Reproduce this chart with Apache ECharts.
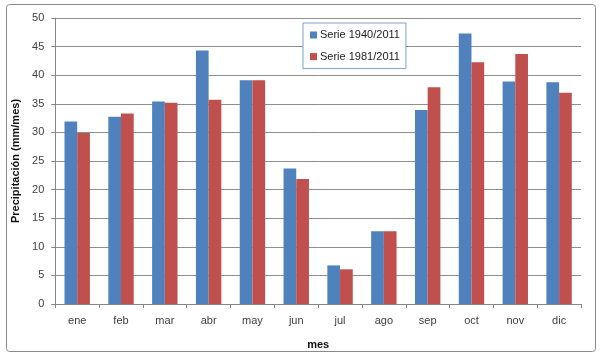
<!DOCTYPE html>
<html><head><meta charset="utf-8">
<script src="https://cdn.jsdelivr.net/npm/echarts@6/dist/echarts.min.js"></script>
<style>html,body{margin:0;padding:0;background:#fff}#c{width:600px;height:356px}</style>
</head><body><div id="c"></div>
<script>
const categories = ['ene','feb','mar','abr','may','jun','jul','ago','sep','oct','nov','dic'];
const serie1940 = [31.9, 32.75, 35.4, 44.3, 39.1, 23.7, 6.75, 12.7, 33.9, 47.3, 38.9, 38.75];
const serie1981 = [29.9, 33.3, 35.2, 35.7, 39.1, 21.85, 6.06, 12.7, 37.9, 42.25, 43.7, 36.95];
const seriesNames = ['Serie 1940/2011', 'Serie 1981/2011'];

const FONT = '"Liberation Sans", "DejaVu Sans", sans-serif';
const chart = echarts.init(document.getElementById('c'), null, {renderer: 'canvas'});
chart.setOption({
  animation: false,
  backgroundColor: '#fff',
  textStyle: {fontFamily: FONT},
  graphic: [{
    type: 'rect', shape: {x: 6.5, y: 4.5, width: 589, height: 347, r: 3},
    style: {fill: 'none', stroke: '#8a8a8a', lineWidth: 1}, silent: true, z: -1
  }],
  legend: {
    orient: 'vertical', left: 303, top: 23,
    data: seriesNames,
    icon: 'rect', itemWidth: 7, itemHeight: 7, itemGap: 7.6,
    padding: [5, 6, 5, 7],
    borderColor: '#7f9fcf', borderWidth: 1, backgroundColor: '#fff',
    textStyle: {fontFamily: FONT, fontSize: 11, color: '#222', lineHeight: 14, padding: [0, 0, 0, -2]}
  },
  grid: {left: 55.3, right: 19, top: 18, bottom: 52},
  xAxis: {
    type: 'category', data: categories,
    name: 'mes', nameLocation: 'middle', nameGap: 35,
    nameTextStyle: {fontFamily: FONT, fontSize: 11, fontWeight: 'bold', color: '#111'},
    axisLine: {lineStyle: {color: '#868686'}},
    axisTick: {show: true, length: 4, lineStyle: {color: '#868686'}},
    axisLabel: {fontFamily: FONT, fontSize: 11, color: '#404040', margin: 11}
  },
  yAxis: {
    type: 'value', min: 0, max: 50, interval: 5,
    name: 'Precipitación (mm/mes)', nameLocation: 'middle', nameGap: 34,
    nameTextStyle: {fontFamily: FONT, fontSize: 11, fontWeight: 'bold', color: '#111'},
    axisLine: {show: true, lineStyle: {color: '#868686'}},
    axisTick: {show: true, length: 4, lineStyle: {color: '#868686'}},
    axisLabel: {fontFamily: FONT, fontSize: 11, color: '#404040', margin: 11},
    splitLine: {lineStyle: {color: '#8e8e8e', width: 1}}
  },
  series: [
    {name: seriesNames[0], type: 'bar', data: serie1940, itemStyle: {color: '#4F81BD'},
     barGap: '0%', barCategoryGap: '42%'},
    {name: seriesNames[1], type: 'bar', data: serie1981, itemStyle: {color: '#C0504D'},
     barGap: '0%', barCategoryGap: '42%'}
  ]
});
</script></body></html>
